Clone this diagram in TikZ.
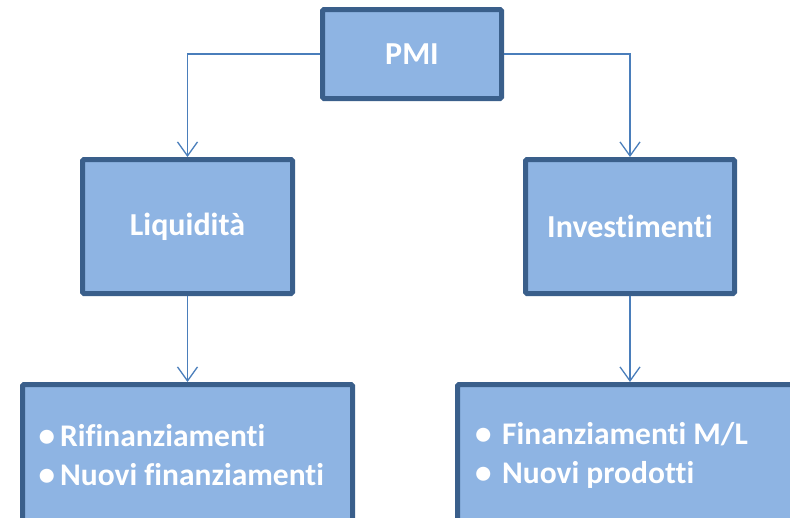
\documentclass[tikz,border=0pt]{standalone}
\usepackage{fontspec}
\setmainfont[RawFeature=-liga]{Carlito}
\usepackage{tikz}
\usetikzlibrary{positioning,arrows.meta}
\definecolor{boxfill}{HTML}{8EB4E3}
\definecolor{boxline}{HTML}{3A5F8B}
\definecolor{linkline}{HTML}{4A7EBB}
\newcommand{\itemdot}{\scalebox{1.05}{\textbullet}}
\tikzset{
    block/.style={draw=boxline, fill=boxfill, line width=5pt, rounded corners=1.5pt,
        font=\fontsize{32}{38}\selectfont\bfseries, text=white, inner sep=0pt},
    link/.style={draw=linkline, line width=1.3pt, -{Straight Barb[length=14pt,width=20pt,line width=1.3pt]}},
    listtext/.style={font=\fontsize{31.5}{39}\selectfont\bfseries, text=white, align=left, anchor=west, inner sep=0pt}
}

\begin{document}
\begin{tikzpicture}[x=1pt, y=-1pt]
    \useasboundingbox (0,0) rectangle (790,517);
    \begin{scope}
    \clip (0,0) rectangle (790,517);
    \node[block, minimum width=179pt, minimum height=89pt] (pmi) at (412,54) {PMI};
    \node[block, minimum width=210pt, minimum height=134pt] (liq) at (187.5,226.5) {Liquidità};
    \node[block, minimum width=209pt, minimum height=134pt] (inv) at (630,226.5) {Investimenti};
    \node[block, minimum width=330pt, minimum height=176pt] (liqlist) at (187.5,472.5) {};
    \node[block, minimum width=373pt, minimum height=176pt] (invlist) at (644,472.5) {};
    \end{scope}
    % elenchi puntati
    \node[listtext] (liqitems) at (38.5,455) {\itemdot\hspace{5pt}Rifinanziamenti\\\itemdot\hspace{5pt}Nuovi finanziamenti};
    \node[listtext] (invitems) at (475,455) {\itemdot\hspace{10.5pt}Finanziamenti M/L\\\itemdot\hspace{10.5pt}Nuovi prodotti};
    % collegamenti
    \draw[link] (pmi.west) -| (liq.north);
    \draw[link] (pmi.east) -| (inv.north);
    \draw[link] (liq.south) -- (liq.south |- liqlist.north);
    \draw[link] (inv.south) -- (inv.south |- invlist.north);
\end{tikzpicture}
\end{document}
